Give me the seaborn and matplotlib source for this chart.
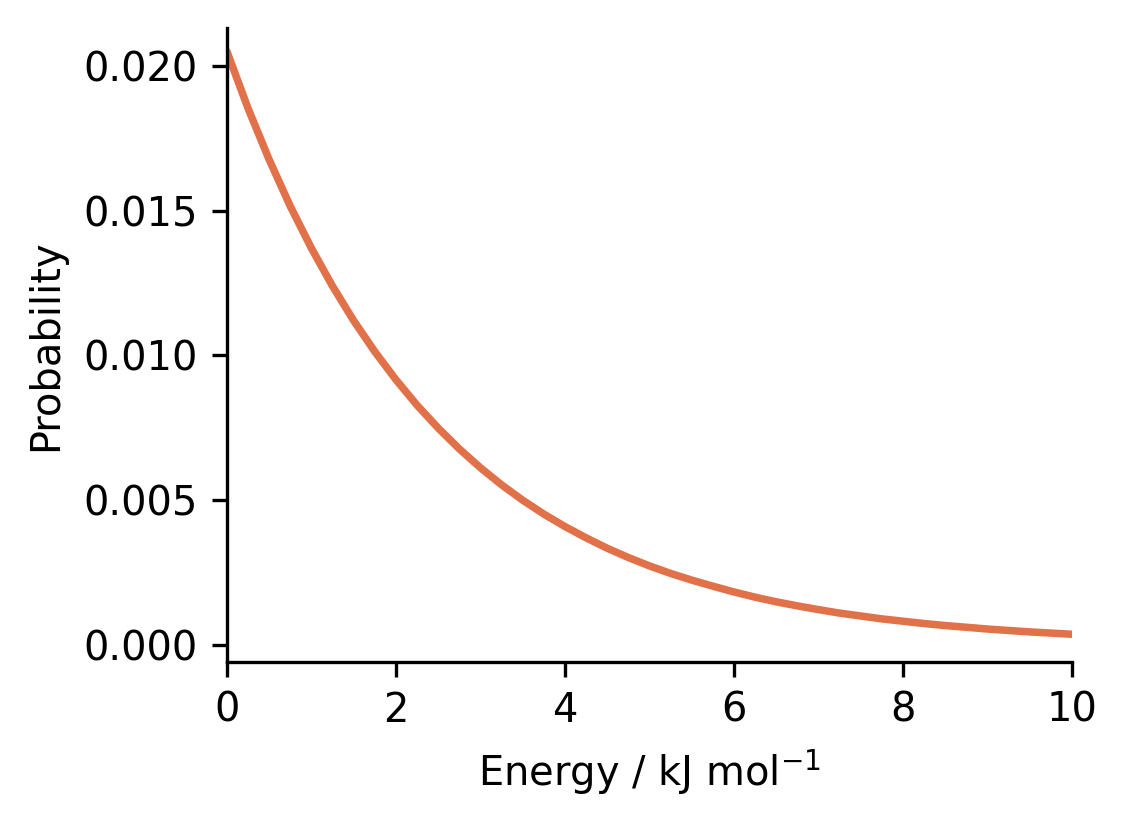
import matplotlib
matplotlib.use("Agg")
import matplotlib.pyplot as plt
import seaborn as sns
import pandas as pd

energy = [0.0, 0.25, 0.5, 0.75, 1.0, 1.25, 1.5, 1.75, 2.0, 2.25, 2.5, 2.75,
          3.0, 3.25, 3.5, 3.75, 4.0, 4.25, 4.5, 4.75, 5.0, 5.25, 5.5, 5.75,
          6.0, 6.25, 6.5, 6.75, 7.0, 7.25, 7.5, 7.75, 8.0, 8.25, 8.5, 8.75,
          9.0, 9.25, 9.5, 9.75, 10.0]
probability = [0.0205, 0.01853, 0.01676, 0.01515, 0.01370, 0.01239, 0.01120,
               0.01013, 0.00916, 0.00828, 0.00749, 0.00677, 0.00612, 0.00553,
               0.00500, 0.00452, 0.00409, 0.00370, 0.00334, 0.00302, 0.00273,
               0.00247, 0.00224, 0.00203, 0.00183, 0.00165, 0.00149, 0.00135,
               0.00122, 0.00110, 0.00100, 0.00090, 0.00082, 0.00074, 0.00067,
               0.00061, 0.00055, 0.00050, 0.00045, 0.00041, 0.00037]
xticks = [0, 2, 4, 6, 8, 10]
yticks = [0.000, 0.005, 0.010, 0.015, 0.020]

sns.set_theme(style="ticks")
plt.rcParams['font.family'] = ['DejaVu Sans']
plt.rcParams['axes.linewidth'] = 0.8
plt.rcParams['xtick.major.width'] = 0.8
plt.rcParams['ytick.major.width'] = 0.8

df = pd.DataFrame({"Energy": energy, "Probability": probability})

fig = plt.figure(figsize=(1146 / 300, 820 / 300), dpi=300)
ax = fig.add_axes([0.198, 0.193, 0.7374, 0.773])
sns.lineplot(data=df, x="Energy", y="Probability", ax=ax, color="#e07149",
             linewidth=1.8, solid_joinstyle="round")
ax.set_xlim(0, 10)
ax.set_ylim(-0.00058, 0.02131)
ax.set_xticks(xticks)
ax.set_yticks(yticks)
ax.set_yticklabels([f"{v:.3f}" for v in yticks])
ax.tick_params(labelsize=9.6, colors="black", length=3.5)
ax.set_xlabel("Energy / kJ mol$^{-1}$", fontsize=9.6, color="black")
ax.set_ylabel("Probability", fontsize=9.6, color="black")
for s in ["left", "bottom"]:
    ax.spines[s].set_color("black")
sns.despine(ax=ax)
fig.savefig("out.png", dpi=300)
